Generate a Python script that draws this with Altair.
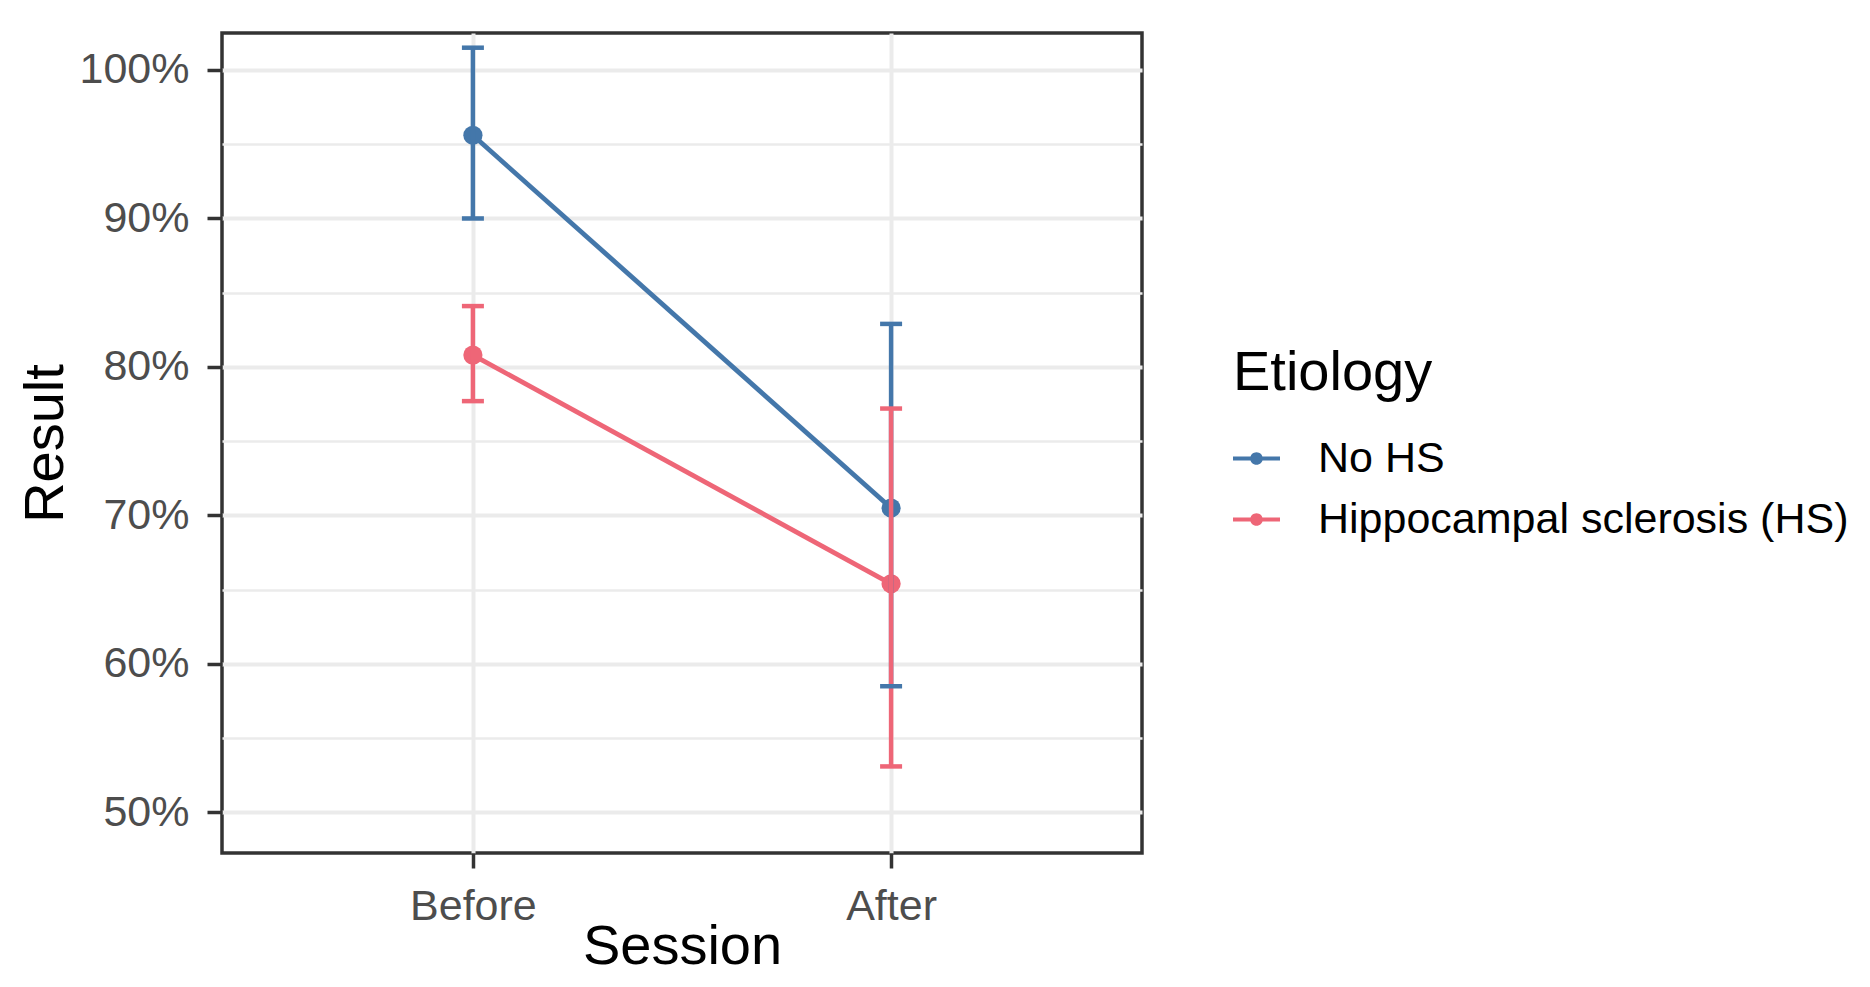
import altair as alt
import pandas as pd

# ---- data ----
sessions = ["Before", "After"]
groups = ["No HS", "Hippocampal sclerosis (HS)"]
colors = ["#4477AA", "#EE6677"]

mean_nohs = [95.6, 70.5]
lower_nohs = [90.0, 58.5]
upper_nohs = [101.5, 82.9]

mean_hs = [80.8, 65.4]
lower_hs = [77.7, 53.1]
upper_hs = [84.1, 77.2]

y_ticks = [50, 55, 60, 65, 70, 75, 80, 85, 90, 95, 100]
y_domain = [47.27, 102.49]

rows = []
for g, m, lo, hi in [(groups[0], mean_nohs, lower_nohs, upper_nohs),
                     (groups[1], mean_hs, lower_hs, upper_hs)]:
    for i, s in enumerate(sessions):
        rows.append({"Etiology": g, "Session": s, "xpos": i + 1,
                     "mean": m[i], "lower": lo[i], "upper": hi[i]})
df = pd.DataFrame(rows)

label_expr = " : ".join(
    [f"datum.value == {i + 1} ? '{s}'" for i, s in enumerate(sessions)]) + " : ''"

x_enc = alt.X("xpos:Q", scale=alt.Scale(domain=[0.4, 2.6], nice=False, zero=False),
              axis=alt.Axis(values=[1, 2], labelExpr=label_expr, title="Session",
                            titleX=460, titleY=110, titleBaseline="alphabetic",
                            gridWidth=4))
y_axis = alt.Axis(values=y_ticks, title="Result",
                  labelExpr="datum.value % 10 == 0 ? datum.value + '%' : ''",
                  tickOpacity={"condition": {"test": "datum.value % 10 != 0", "value": 0}, "value": 1},
                  gridWidth={"condition": {"test": "datum.value % 10 != 0", "value": 2.5}, "value": 4},
                  titleX=-160, titleY=410, titleBaseline="alphabetic", titleAngle=270)
y_scale = alt.Scale(domain=y_domain, nice=False, zero=False)

# fill scale (with legend) uses an explicit domain; stroke scale uses a sorted data domain
fill_scale = alt.Scale(domain=groups, range=colors)
stroke_scale = alt.Scale(range=colors)
legend_symbol = ("M-1,-0.09L1,-0.09L1,0.09L-1,0.09Z "
                 "M0.27,0A0.27,0.27 0 1,1 -0.27,0A0.27,0.27 0 1,1 0.27,0Z")


def stroke_enc():
    return alt.Stroke("Etiology:N", sort=groups, scale=stroke_scale, legend=None)


base = alt.Chart(df)

lines = base.mark_line(strokeWidth=4.8).encode(
    x=x_enc,
    y=alt.Y("mean:Q", scale=y_scale, axis=y_axis),
    stroke=stroke_enc(),
    detail="Etiology:N",
)

points = base.mark_point(filled=True, size=370, opacity=1, strokeWidth=0).encode(
    x="xpos:Q",
    y="mean:Q",
    fill=alt.Fill("Etiology:N", scale=fill_scale,
                  legend=alt.Legend(title="Etiology", orient="none",
                                    legendX=1011, legendY=313)),
)

vbars = base.mark_rule(strokeWidth=4.5).encode(
    x="xpos:Q",
    y="lower:Q",
    y2="upper:Q",
    stroke=stroke_enc(),
)

caps_hi = base.mark_rule(strokeWidth=4.5, xOffset=-11, x2Offset=11).encode(
    x="xpos:Q",
    x2="xpos:Q",
    y="upper:Q",
    stroke=stroke_enc(),
)
caps_lo = base.mark_rule(strokeWidth=4.5, xOffset=-11, x2Offset=11).encode(
    x="xpos:Q",
    x2="xpos:Q",
    y="lower:Q",
    stroke=stroke_enc(),
)

chart = alt.layer(lines, points, vbars, caps_hi, caps_lo).properties(
    width=920, height=820,
    autosize=alt.AutoSizeParams(type="none"),
    padding={"left": 214, "top": 25, "right": 716, "bottom": 126},
    background="white",
).configure(
    font="Liberation Sans",
).configure_view(
    stroke="#333333", strokeWidth=3.5, fill="white",
).configure_axis(
    labelFont="Liberation Sans", labelFontSize=43, labelColor="#4D4D4D",
    titleFont="Liberation Sans", titleFontSize=56, titleColor="#000000",
    titleFontWeight="normal",
    domain=False, tickColor="#333333", tickWidth=3.5, tickSize=15,
    labelPadding=17, gridColor="#EBEBEB",
).configure_axisY(
    labelPadding=18,
).configure_legend(
    titleFont="Liberation Sans", titleFontSize=56, titleColor="#000000",
    titleFontWeight="normal", titleBaseline="top", titlePadding=33,
    titleLimit=0, labelLimit=0,
    labelFont="Liberation Sans", labelFontSize=43, labelColor="#000000",
    symbolType=legend_symbol, symbolSize=2209, symbolStrokeWidth=0,
    labelOffset=38, rowPadding=15, padding=0,
)

chart.save("out.html", embed_options={"renderer": "svg", "actions": False})
